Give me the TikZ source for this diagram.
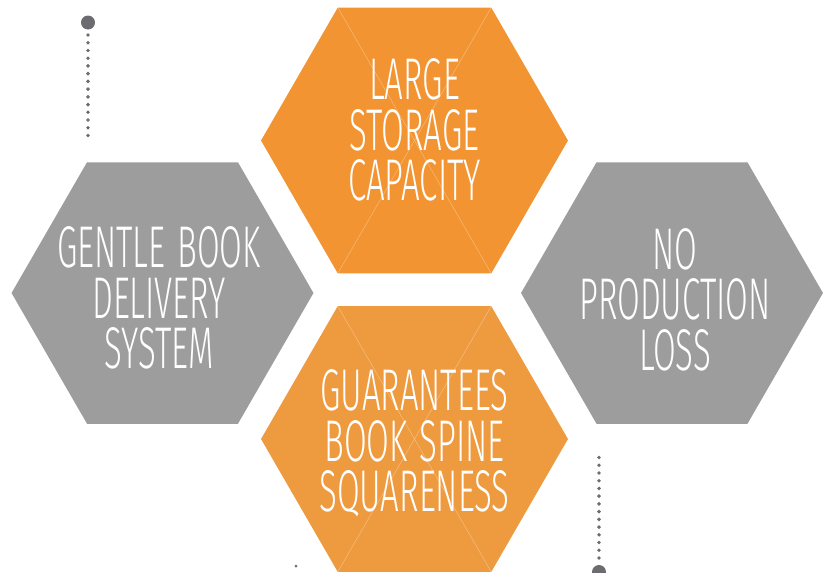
\documentclass[tikz,border=0pt]{standalone}
\usepackage{fontspec}
\usetikzlibrary{shapes.geometric}
\newfontfamily\hexfont[FakeStretch=0.56, WordSpace=1.3]{Fira Sans Light}
\definecolor{hexorange}{HTML}{F29431}
\definecolor{hexorangeb}{HTML}{EE9A3E}
\definecolor{hexgray}{HTML}{9D9D9D}
\definecolor{dotgray}{HTML}{6B6B70}
\tikzset{
  hexbox/.style={regular polygon, regular polygon sides=6, draw=none, inner sep=0pt, outer sep=0pt},
  hextext/.style={text=white, align=center, font=\hexfont\fontsize{33.5}{28.7}\selectfont},
  crossline/.style={white, opacity=0.35, line width=0.3pt},
  bigdot/.style={circle, fill=dotgray, inner sep=0pt, minimum size=0.28cm},
  dotline/.style={dotgray, line width=2.2pt, line cap=round, dash pattern=on 0pt off 4.4pt}
}

\begin{document}
\begin{tikzpicture}[x=0.02cm, y=-0.02cm]
\useasboundingbox (0,0) rectangle (829,572);
% hexagons
\node[hexbox, fill=hexorange, minimum size=6.14cm] (storage) at (414.5,140.5) {};
\node[hexbox, fill=hexorangeb, minimum size=6.14cm] (spine) at (414.5,439) {};
\node[hexbox, fill=hexgray, minimum size=6.04cm] (gentle) at (162.5,293) {};
\node[hexbox, fill=hexgray, minimum size=6.04cm] (noloss) at (672,293) {};
\draw[crossline] (storage.120) -- (storage.300);
\draw[crossline] (storage.60) -- (storage.240);
\draw[crossline] (spine.120) -- (spine.300);
\draw[crossline] (spine.60) -- (spine.240);
% labels
\node[hextext] (storagetxt) at (414.5,130) {LARGE\\STORAGE\\CAPACITY};
\node[hextext] (spinetxt) at (414.5,443.5) {GUARANTEES\\BOOK SPINE\\SQUARENESS};
\node[hextext] (gentletxt) at (159,298) {GENTLE BOOK\\DELIVERY\\SYSTEM};
\node[hextext] (nolosstxt) at (675,299.5) {NO\\PRODUCTION\\LOSS};
% dotted pins
\node[bigdot] (pintop) at (88,22.5) {};
\coordinate (pintopend) at (88,139);
\draw[dotline] (88,35) -- (pintopend);
\node[bigdot] (pinbot) at (599,572) {};
\coordinate (pinbotend) at (599,452);
\draw[dotline] (599,558) -- (pinbotend);
\node[circle, fill=dotgray, inner sep=0pt, minimum size=0.06cm] (pinsmall) at (296,566) {};
\end{tikzpicture}
\end{document}
